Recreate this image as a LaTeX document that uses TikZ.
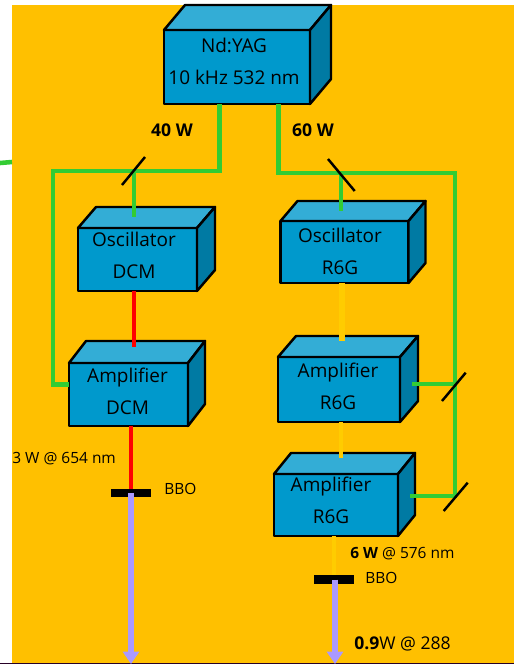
\documentclass[tikz,border=0pt]{standalone}
\usepackage{fontspec}
\setmainfont{Open Sans}
\usetikzlibrary{arrows.meta,calc}
\definecolor{bgo}{RGB}{255,192,0}
\definecolor{frontc}{RGB}{0,153,204}
\definecolor{topc}{RGB}{51,173,214}
\definecolor{sidec}{RGB}{0,122,163}
\definecolor{pump}{RGB}{51,204,51}
\definecolor{dcm}{RGB}{255,0,0}
\definecolor{r6g}{RGB}{255,204,0}
\definecolor{uv}{RGB}{170,153,255}
\begin{document}
\begin{tikzpicture}[x=0.02cm,y=-0.02cm,
    block/.style={draw=black, fill=frontc, line width=1.4pt, line join=round, inner sep=0pt, outer sep=0pt},
    face/.style={draw=black, line width=1.4pt, line join=round},
    lbl/.style={font=\fontsize{10.8}{18.2}\selectfont, align=center, inner sep=0pt},
    note/.style={font=\fontsize{8.8}{10}\selectfont, inner sep=0pt},
    power/.style={font=\fontsize{10}{10}\selectfont\bfseries, inner sep=0pt},
    green/.style={pump, line width=2.6pt},
    red/.style={dcm, line width=2.4pt},
    yel/.style={r6g, line width=#1},
    uvbeam/.style={uv, line width=3.8pt, -{Triangle[length=7pt,width=9pt]}},
    mirror/.style={black, line width=1.4pt},
    crystal/.style={fill=black, inner sep=0pt, outer sep=0pt, minimum width=40*0.02cm, minimum height=8.5*0.02cm}]

    \useasboundingbox (0,0) rectangle (514,664);
    \fill[bgo] (12,5) rectangle (514,663);
    \draw[black!70!violet, line width=0.5pt] (0,663.5) -- (514,663.5);

    % boxes: name / corner / size / depth / text position / text
    \foreach \nm/\x/\y/\w/\h/\dx/\dy/\tx/\ty/\txt in {
        yag/164/30/146/74/21/25/234/61/{Nd:YAG\\10 kHz 532 nm},
        oscd/78/228/119/63/18/21/134/255.5/{Oscillator\\DCM},
        ampd/69/363/119/63/17/22/127.5/391/{Amplifier\\DCM},
        oscr/280.5/221/128/62/17/20/340/251/{Oscillator\\R6G},
        ampra/278/357/122/65/18/21/338/386/{Amplifier\\R6G},
        amprb/274/474/124/62/17/21/331/500.5/{Amplifier\\R6G}}{
      \node[block, anchor=north west, minimum width=\w*0.02cm, minimum height=\h*0.02cm] (\nm) at (\x,\y) {};
      \filldraw[face, fill=topc] (\nm.north west) -- ++(\dx,-\dy) -- ++(\w,0) -- (\nm.north east) -- cycle;
      \filldraw[face, fill=sidec] (\nm.north east) -- ++(\dx,-\dy) -- ++(0,\h) -- (\nm.south east) -- cycle;
      \node[lbl] (\nm txt) at (\tx,\ty) {\txt};
    }

    % crystals
    \node[crystal] (bbol) at (131,492.8) {};
    \node[crystal] (bbor) at (334.3,579.6) {};

    % 532 nm pump, left arm
    \coordinate (la) at (219.5,171);
    \coordinate (lb) at (53,171);
    \coordinate (lc) at (53,384.7);
    \coordinate (ld) at (134,171);
    \coordinate (le) at (134,217);
    \draw[green] (la |- yag.south) -- (la) -- (lb) -- (lc) -- (lc -| ampd.west);
    \draw[green] (ld) -- (le);
    \draw[mirror] (122,185) -- (145,157);

    % 532 nm pump, right arm
    \coordinate (ra) at (278.7,173);
    \coordinate (rb) at (455,173);
    \coordinate (rc) at (455,496);
    \coordinate (rd) at (341,173);
    \coordinate (re) at (341,211);
    \coordinate (rf) at (455,384);
    \draw[green] (ra |- yag.south) -- (ra) -- (rb) -- (rc) -- (410,496);
    \draw[green] (rd) -- (re);
    \draw[green] (rf) -- (412,384);
    \draw[mirror] (328,159) -- (354.7,191);
    \draw[mirror] (442,401) -- (465.7,372.7);
    \draw[mirror] (443.7,511) -- (467.7,482.7);
    \draw[green] (0,163) -- (12,162);

    % dye beams
    \coordinate (da) at (134,347);
    \draw[red] (oscd.south -| da) -- (da);
    \draw[red] (bbol.north |- ampd.south) -- (bbol.north);
    \coordinate (ya) at (342,341);
    \coordinate (yb) at (341,458);
    \draw[yel=3.2pt] (oscr.south -| ya) -- (ya);
    \draw[yel=2.3pt] (ampra.south -| yb) -- (yb);
    \draw[yel=2.3pt] (bbor.north |- amprb.south) -- (bbor.north);

    % second harmonic
    \coordinate (ul) at (131,664);
    \coordinate (ur) at (335,664);
    \draw[uvbeam] (bbol.center) -- (ul);
    \draw[uvbeam] (bbor.center -| ur) -- (ur);

    % labels
    \node[power] (p40) at (172,130) {40 W};
    \node[power] (p60) at (313,130) {60 W};
    \node[note, anchor=west] (ol) at (12,459) {3 W @ 654 nm};
    \node[note, anchor=west] (bl) at (164,489) {BBO};
    \node[note, anchor=west] (or) at (350,554) {\textbf{6 W} @ 576 nm};
    \node[note, anchor=west] (br) at (365,578) {BBO};
    \node[note, anchor=west, font=\fontsize{10}{10}\selectfont] (ou) at (354,644) {\textbf{0.9}W @ 288};
\end{tikzpicture}
\end{document}
